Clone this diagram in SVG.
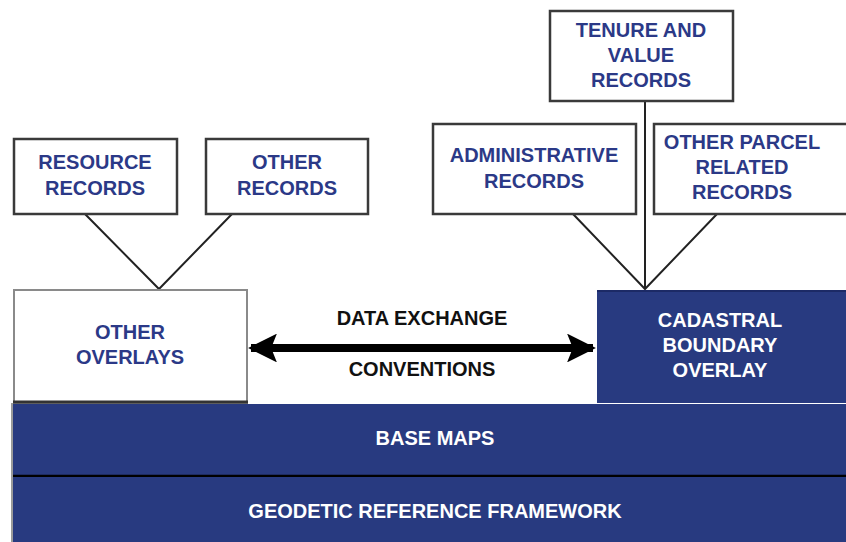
<svg xmlns="http://www.w3.org/2000/svg" width="846" height="542" viewBox="0 0 846 542">
  <style>
    .rec { fill: #ffffff; stroke: #3a3a3a; stroke-width: 2.5; }
    .navy { fill: #283a80; }
    .t { font-family: "Liberation Sans", Arial, sans-serif; font-weight: bold; font-size: 20px; text-anchor: middle; dominant-baseline: central; }
    .blue { fill: #2b3987; }
    .white { fill: #ffffff; }
    .black { fill: #111111; }
    .link { stroke: #222222; stroke-width: 2; fill: none; }
  </style>
  <defs>
    <marker id="head" viewBox="0 0 10 10" refX="9" refY="5" markerWidth="3.6" markerHeight="3.6" orient="auto-start-reverse" markerUnits="strokeWidth">
      <path d="M0,0 L10,5 L0,10 L2,5 Z" fill="#000000"/>
    </marker>
  </defs>
  <rect x="0" y="0" width="846" height="542" fill="#ffffff"/>

  <!-- connectors -->
  <g id="connectors">
    <path class="link" d="M85,214 L159,289 L232,214"/>
    <path class="link" d="M573,214 L645,289 L717,214"/>
    <path class="link" d="M645,101 L645,289"/>
    <line x1="251" y1="348" x2="593" y2="348" stroke="#000000" stroke-width="8" marker-start="url(#head)" marker-end="url(#head)"/>
  </g>

  <g id="resource-records">
    <rect class="rec" x="14" y="139" width="163" height="75"/>
    <text class="t blue" x="95" y="162">RESOURCE</text>
    <text class="t blue" x="95" y="188">RECORDS</text>
  </g>

  <g id="other-records">
    <rect class="rec" x="206" y="139" width="162" height="75"/>
    <text class="t blue" x="287" y="162">OTHER</text>
    <text class="t blue" x="287" y="188">RECORDS</text>
  </g>

  <g id="tenure-value-records">
    <rect class="rec" x="550" y="11" width="183" height="90"/>
    <text class="t blue" x="641" y="30">TENURE AND</text>
    <text class="t blue" x="641" y="55">VALUE</text>
    <text class="t blue" x="641" y="80">RECORDS</text>
  </g>

  <g id="administrative-records">
    <rect class="rec" x="433" y="124" width="203" height="90"/>
    <text class="t blue" x="534" y="155" font-size="19">ADMINISTRATIVE</text>
    <text class="t blue" x="534" y="181">RECORDS</text>
  </g>

  <g id="other-parcel-records">
    <rect class="rec" x="654" y="124" width="200" height="90"/>
    <text class="t blue" x="742" y="142">OTHER PARCEL</text>
    <text class="t blue" x="742" y="167">RELATED</text>
    <text class="t blue" x="742" y="192">RECORDS</text>
  </g>

  <g id="other-overlays">
    <rect x="14" y="290" width="233" height="113" fill="#ffffff" stroke="#8a8a8a" stroke-width="2"/>
    <line x1="13" y1="402" x2="248" y2="402" stroke="#333333" stroke-width="3"/>
    <text class="t blue" x="130" y="332">OTHER</text>
    <text class="t blue" x="130" y="357">OVERLAYS</text>
  </g>

  <g id="data-exchange-label">
    <text class="t black" x="422" y="318">DATA EXCHANGE</text>
    <text class="t black" x="422" y="369">CONVENTIONS</text>
  </g>

  <g id="cadastral-boundary-overlay">
    <rect class="navy" x="597" y="290" width="249" height="113"/>
    <line x1="597" y1="291" x2="846" y2="291" stroke="#1c2a66" stroke-width="2"/>
    <text class="t white" x="720" y="320">CADASTRAL</text>
    <text class="t white" x="720" y="345">BOUNDARY</text>
    <text class="t white" x="720" y="370">OVERLAY</text>
  </g>

  <g id="base-maps">
    <rect class="navy" x="13" y="404" width="833" height="71"/>
    <text class="t white" x="435" y="438">BASE MAPS</text>
  </g>

  <line x1="13" y1="476" x2="846" y2="476" stroke="#000000" stroke-width="2.5"/>

  <g id="geodetic-reference-framework">
    <rect class="navy" x="13" y="477" width="833" height="65"/>
    <text class="t white" x="435" y="511">GEODETIC REFERENCE FRAMEWORK</text>
  </g>
  <line x1="12" y1="403" x2="12" y2="542" stroke="#9a9a9a" stroke-width="2"/>
</svg>
